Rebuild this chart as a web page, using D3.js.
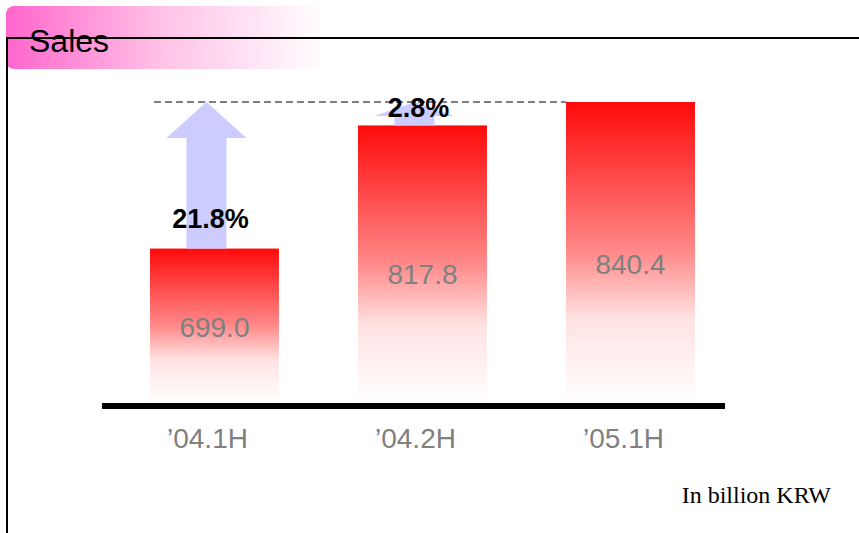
<!DOCTYPE html>
<html>
<head>
<meta charset="utf-8">
<script src="https://cdn.jsdelivr.net/npm/d3@7"></script>
<style>
  html, body { margin: 0; padding: 0; background: #fff; }
  svg { display: block; }
</style>
</head>
<body>
<svg id="chart" width="859" height="533"></svg>
<script>
// data
var periods = ["\u201904.1H", "\u201904.2H", "\u201905.1H"];
var sales = [699.0, 817.8, 840.4];
var growth = ["21.8%", "2.8%", null];   // growth to the latest half
var valueLabels = ["699.0", "817.8", "840.4"];
var title = "Sales";
var unitNote = "In billion KRW";

var W = 859, H = 533;
var baseY = 403, yMin = 550;

var svg = d3.select("#chart");
var defs = svg.append("defs");

// title box gradient (pink -> white)
var tg = defs.append("linearGradient").attr("id", "titleGrad")
    .attr("x1", "0%").attr("x2", "100%").attr("y1", "0%").attr("y2", "0%");
tg.append("stop").attr("offset", "0%").attr("stop-color", "#ff66cc");
tg.append("stop").attr("offset", "50%").attr("stop-color", "#ffc4e8");
tg.append("stop").attr("offset", "100%").attr("stop-color", "#ffffff");

// bar gradient (red -> white)
var bg = defs.append("linearGradient").attr("id", "barGrad")
    .attr("x1", "0%").attr("x2", "0%").attr("y1", "0%").attr("y2", "100%");
bg.append("stop").attr("offset", "0%").attr("stop-color", "#ff0a0a");
bg.append("stop").attr("offset", "50%").attr("stop-color", "#ff8a8a");
bg.append("stop").attr("offset", "72%").attr("stop-color", "#ffe2e2");
bg.append("stop").attr("offset", "100%").attr("stop-color", "#ffffff");

var x = d3.scaleBand()
    .domain(periods)
    .range([102, 725])
    .paddingInner(0.38)
    .paddingOuter(0.1875)
    .align(0.615);

var y = d3.scaleLinear()
    .domain([yMin, d3.max(sales)])
    .range([baseY, 102]);

// ****************** title ***************************
svg.append("rect")
    .attr("x", 6).attr("y", 6)
    .attr("width", 320).attr("height", 63)
    .attr("rx", 8)
    .style("fill", "url(#titleGrad)");

svg.append("text")
    .attr("x", 29).attr("y", 52)
    .style("font-family", "'Liberation Sans', Arial, sans-serif")
    .style("font-size", "32px")
    .style("fill", "#000")
    .text(title);

// frame lines
svg.append("line")
    .attr("x1", 6).attr("x2", W).attr("y1", 38).attr("y2", 38)
    .style("stroke", "#000").style("stroke-width", 2);
svg.append("line")
    .attr("x1", 7).attr("x2", 7).attr("y1", 37).attr("y2", H)
    .style("stroke", "#000").style("stroke-width", 2);

// ****************** bars ***************************
var data = periods.map(function(p, i) {
  return { period: p, value: sales[i], growth: growth[i], label: valueLabels[i] };
});

svg.selectAll("rect.bar")
    .data(data)
  .enter().append("rect")
    .attr("class", "bar")
    .attr("x", function(d) { return x(d.period); })
    .attr("y", function(d) { return y(d.value); })
    .attr("width", x.bandwidth())
    .attr("height", function(d) { return baseY - y(d.value); })
    .style("fill", "url(#barGrad)");

// dashed reference line at the latest value
var yTop = y(d3.max(sales));
svg.append("line")
    .attr("x1", x(periods[0]) + 4)
    .attr("x2", x(periods[periods.length - 1]))
    .attr("y1", yTop).attr("y2", yTop)
    .style("stroke", "#808080")
    .style("stroke-width", 2)
    .style("stroke-dasharray", "7,4");

// growth arrows
var arrows = data.filter(function(d) { return d.growth; });

function arrowPath(d) {
  var cx = x(d.period) + x.bandwidth() / 2 - 8,
      y0 = y(d.value),
      len = y0 - yTop,
      head = Math.min(36, Math.max(15, len * 0.25), len * 0.6);
  return "M" + (cx - 20) + "," + y0 +
         "L" + (cx - 20) + "," + (yTop + head) +
         "L" + (cx - 40) + "," + (yTop + head) +
         "L" + cx + "," + yTop +
         "L" + (cx + 40) + "," + (yTop + head) +
         "L" + (cx + 20) + "," + (yTop + head) +
         "L" + (cx + 20) + "," + y0 + "Z";
}

svg.selectAll("path.arrow")
    .data(arrows)
  .enter().append("path")
    .attr("class", "arrow")
    .attr("d", arrowPath)
    .style("fill", "#ccccff");

svg.selectAll("text.growth")
    .data(arrows)
  .enter().append("text")
    .attr("class", "growth")
    .attr("x", function(d) { return x(d.period) + x.bandwidth() / 2 - 4; })
    .attr("y", function(d) {
      var y0 = y(d.value);
      return y0 - 6 - (y0 - yTop) * 0.1;
    })
    .attr("text-anchor", "middle")
    .style("font-family", "'Liberation Sans', Arial, sans-serif")
    .style("font-size", "27px")
    .style("font-weight", "bold")
    .style("fill", "#000")
    .text(function(d) { return d.growth; });

// value labels inside the bars
svg.selectAll("text.value")
    .data(data)
  .enter().append("text")
    .attr("class", "value")
    .attr("x", function(d) { return x(d.period) + x.bandwidth() / 2; })
    .attr("y", function(d) {
      var y0 = y(d.value);
      return y0 + (baseY - y0) * 0.57;
    })
    .attr("text-anchor", "middle")
    .style("font-family", "'Liberation Sans', Arial, sans-serif")
    .style("font-size", "28px")
    .style("fill", "#808080")
    .text(function(d) { return d.label; });

// baseline
svg.append("line")
    .attr("x1", x.range()[0]).attr("x2", x.range()[1])
    .attr("y1", baseY + 3).attr("y2", baseY + 3)
    .style("stroke", "#000")
    .style("stroke-width", 6);

// category labels
svg.selectAll("text.cat")
    .data(periods)
  .enter().append("text")
    .attr("class", "cat")
    .attr("x", function(d) { return x(d) + x.bandwidth() / 2 - 7; })
    .attr("y", 448)
    .attr("text-anchor", "middle")
    .style("font-family", "'Liberation Sans', Arial, sans-serif")
    .style("font-size", "28px")
    .style("fill", "#808080")
    .text(function(d) { return d; });

// unit note
svg.append("text")
    .attr("x", 831).attr("y", 503)
    .attr("text-anchor", "end")
    .style("font-family", "'Liberation Serif', 'Times New Roman', serif")
    .style("font-size", "24px")
    .style("fill", "#000")
    .text(unitNote);
</script>
</body>
</html>
